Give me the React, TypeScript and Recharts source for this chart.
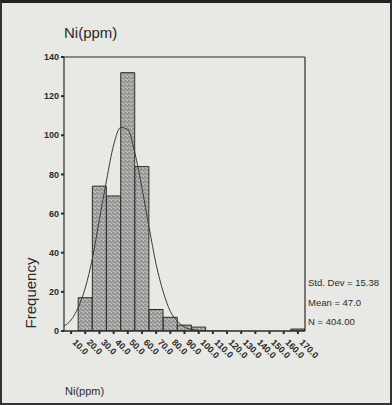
import {
  Bar,
  ComposedChart,
  Line,
  ReferenceLine,
  XAxis,
  YAxis,
} from "recharts";

// histogram bins (midpoints) and frequencies
const binCenters = [10, 20, 30, 40, 50, 60, 70, 80, 90, 100, 110, 120, 130, 140, 150, 160, 170];
const binCounts = [0, 17, 74, 69, 132, 84, 11, 7, 3, 2, 0, 0, 0, 0, 0, 0, 1];

// fitted normal curve
const curveX = [5, 10, 15, 20, 25, 30, 35, 40, 45, 50, 55, 60, 65, 70, 75, 80, 85, 90, 95, 100, 110, 120];
const curveY = [2.5, 5.6, 12, 22, 37, 57, 77, 95, 104, 103, 91, 73, 53, 34, 20, 10, 5, 2, 0.8, 0.3, 0, 0];

const yTicks = [0, 20, 40, 60, 80, 100, 120, 140];
const statLines = ["Std. Dev = 15.38", "Mean = 47.0", "N = 404.00"];

const bars = binCenters.map((bin, i) => ({ bin, count: binCounts[i] }));
const curve = curveX.map((bin, i) => ({ bin, fit: curveY[i] }));

const ink = "#2b2b2b";
const font = "'Liberation Sans', Arial, sans-serif";

const XTick = ({ x, y, payload }: any) => (
  <text
    x={x + 1}
    y={y + 7}
    transform={`rotate(45 ${x + 1} ${y + 7})`}
    fontSize={9}
    fontWeight={600}
    fontFamily={font}
    fill={ink}
    textAnchor="start"
  >
    {payload.value.toFixed(1)}
  </text>
);

export default function App() {
  return (
    <div
      style={{
        position: "fixed",
        left: 0,
        top: 0,
        width: 392,
        height: 405,
        background: "#e8e8e5",
        fontFamily: font,
      }}
    >
      <ComposedChart
        width={392}
        height={405}
        data={bars}
        margin={{ top: 57, right: 87, left: 20, bottom: 24 }}
      >
        <defs>
          <pattern id="stipple" width="4" height="4" patternUnits="userSpaceOnUse">
            <rect width="4" height="4" fill="#a6a6a4" />
            <rect x="0.5" y="0.5" width="1" height="1" fill="#5e5e5e" />
            <rect x="2.5" y="2" width="1" height="1" fill="#707070" />
            <rect x="1.5" y="3" width="1" height="1" fill="#cfcfcd" />
            <rect x="3" y="0" width="1" height="1" fill="#c4c4c2" />
          </pattern>
        </defs>
        <XAxis
          dataKey="bin"
          type="number"
          domain={[5, 175]}
          ticks={binCenters}
          interval={0}
          height={50}
          tick={<XTick />}
          tickSize={3}
          axisLine={{ stroke: ink, strokeWidth: 1.5 }}
          tickLine={{ stroke: ink, strokeWidth: 2 }}
          allowDataOverflow
        />
        <XAxis xAxisId="fit" dataKey="bin" type="number" domain={[5, 175]} hide allowDataOverflow />
        <YAxis
          domain={[0, 140]}
          ticks={yTicks}
          width={44}
          tickSize={3}
          tick={{ fill: ink, fontSize: 9, fontWeight: 600, fontFamily: font }}
          axisLine={{ stroke: ink, strokeWidth: 1.2 }}
          tickLine={{ stroke: ink, strokeWidth: 2 }}
          allowDataOverflow
        />
        <ReferenceLine y={140} stroke={ink} strokeWidth={1.2} />
        <ReferenceLine x={175} stroke={ink} strokeWidth={1.2} />
        <Bar
          dataKey="count"
          barSize={14}
          fill="url(#stipple)"
          stroke={ink}
          strokeWidth={1}
          isAnimationActive={false}
        />
        <Line
          xAxisId="fit"
          data={curve}
          dataKey="fit"
          type="monotone"
          stroke="#3a3a3a"
          strokeWidth={1}
          dot={false}
          activeDot={false}
          isAnimationActive={false}
        />
      </ComposedChart>

      <div style={{ position: "absolute", left: 64, top: 24, fontSize: 15, color: ink }}>Ni(ppm)</div>
      <div
        style={{
          position: "absolute",
          left: 30,
          top: 293,
          fontSize: 15,
          color: ink,
          transform: "translate(-50%, -50%) rotate(-90deg)",
          whiteSpace: "nowrap",
        }}
      >
        Frequency
      </div>
      {statLines.map((s, i) => (
        <div
          key={s}
          style={{
            position: "absolute",
            left: 308,
            top: 277 + i * 19.5,
            fontSize: 9.5,
            color: ink,
            whiteSpace: "nowrap",
          }}
        >
          {s}
        </div>
      ))}
      <div style={{ position: "absolute", left: 65, top: 385, fontSize: 11, color: ink }}>Ni(ppm)</div>
      <div
        style={{
          position: "absolute",
          inset: 0,
          borderTop: "3px solid #222",
          borderLeft: "2px solid #333",
          borderRight: "2px solid #333",
          borderBottom: "2px solid #333",
          boxSizing: "border-box",
          pointerEvents: "none",
        }}
      />
    </div>
  );
}
